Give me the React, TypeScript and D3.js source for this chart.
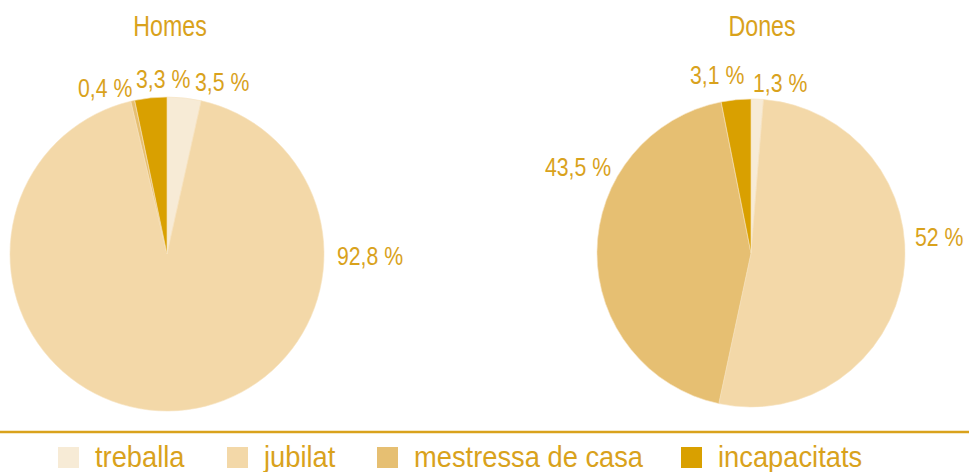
import * as d3 from 'd3';

const categories = ['treballa', 'jubilat', 'mestressa de casa', 'incapacitats'];
const colors = ['#f7ebd6', '#f3d8a8', '#e6bf72', '#d9a000'];

const homesValues = [3.5, 92.8, 0.4, 3.3];
const donesValues = [1.3, 52, 43.5, 3.1];

const homesLabels = ['3,5 %', '92,8 %', '0,4 %', '3,3 %'];
const donesLabels = ['1,3 %', '52 %', '43,5 %', '3,1 %'];

const gold = '#d9a21c';
const font = '"Liberation Sans", Arial, sans-serif';

// hand placed label positions (left x, baseline y) relative to pie centre
const homesLabelPos: [number, number][] = [[28, -163], [170, 11], [-89, -157], [-31, -166]];
const donesLabelPos: [number, number][] = [[2, -161], [164, -7], [-206, -77], [-61, -169]];

// condensed text: the source face is a narrow sans, so squeeze Liberation Sans
function CText({ x, y, size, sx = 0.8, anchor = 'start', children }: {
  x: number; y: number; size: number; sx?: number; anchor?: string; children: string;
}) {
  return (
    <text transform={`translate(${x},${y}) scale(${sx},1)`} textAnchor={anchor}
      fill={gold} fontSize={size} fontFamily={font}>{children}</text>
  );
}

function Pie({ cx, cy, r, title, titleX, values, labels, labelPos }: {
  cx: number; cy: number; r: number; title: string; titleX: number;
  values: number[]; labels: string[]; labelPos: [number, number][];
}) {
  const pie = d3.pie<number>().sort(null).startAngle(0).endAngle(2 * Math.PI);
  const arc = d3.arc<d3.PieArcDatum<number>>().innerRadius(0).outerRadius(r);
  const arcs = pie(values);
  return (
    <g>
      <CText x={titleX} y={36} size={29} sx={0.8} anchor="middle">{title}</CText>
      <g transform={`translate(${cx},${cy})`}>
        {arcs.map((a, i) => (
          <path key={i} d={arc(a) || ''} fill={colors[i]} stroke="#f6e3bf" strokeWidth={0.6} />
        ))}
        {labels.map((l, i) => (
          <CText key={i} x={labelPos[i][0]} y={labelPos[i][1]} size={25} sx={0.85}>{l}</CText>
        ))}
      </g>
    </g>
  );
}

export default function App() {
  const legendStarts = [58, 227, 377, 681];
  return (
    <svg width={969} height={472} style={{ position: 'absolute', left: 0, top: 0, background: '#fff' }}>
      <Pie cx={167} cy={254} r={157} title="Homes" titleX={170} values={homesValues} labels={homesLabels} labelPos={homesLabelPos} />
      <Pie cx={751} cy={253} r={154} title="Dones" titleX={762} values={donesValues} labels={donesLabels} labelPos={donesLabelPos} />
      <line x1={0} x2={969} y1={432} y2={432} stroke={gold} strokeWidth={2.5} />
      {categories.map((c, i) => (
        <g key={c} transform={`translate(${legendStarts[i]},447)`}>
          <rect x={0} y={0} width={21} height={21} fill={colors[i]} />
          <CText x={37} y={20} size={30} sx={0.91}>{c}</CText>
        </g>
      ))}
    </svg>
  );
}
